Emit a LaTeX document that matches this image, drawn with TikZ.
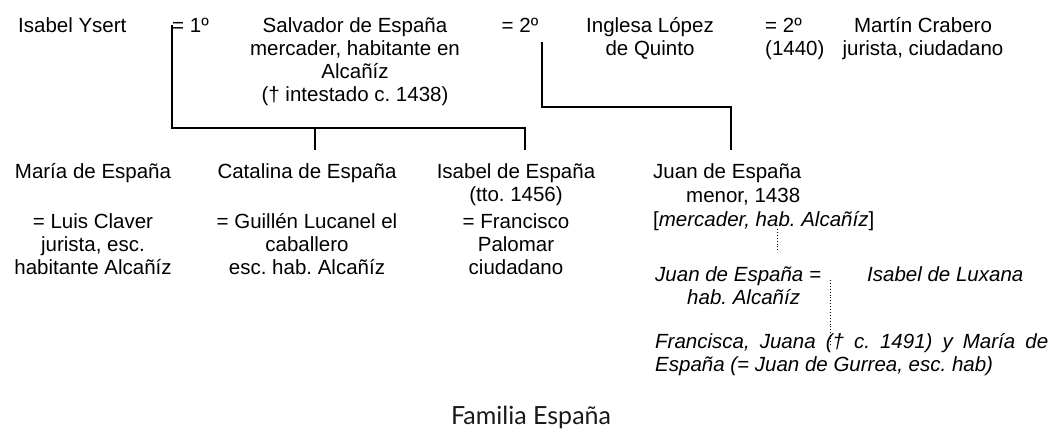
\documentclass[tikz,border=0pt]{standalone}
\usepackage{fontspec}
\setmainfont{Liberation Sans}
\newfontfamily\capfont{Lato}
\usetikzlibrary{positioning}
\definecolor{mainBlack}{gray}{0.0}
\definecolor{capGray}{gray}{0.1}
\frenchspacing

\begin{document}
\begin{tikzpicture}[x=1pt, y=-1pt,
    txt/.style={font=\fontsize{20.5}{23}\selectfont, text=mainBlack, inner sep=0pt, anchor=base},
    txti/.style={txt, font=\fontsize{20.5}{23}\selectfont\itshape},
    kin/.style={mainBlack, line width=1.8pt},
    dots/.style={mainBlack, line width=0.9pt, dotted}]
    \useasboundingbox (0,0) rectangle (1051,434);

    % First generation (multi-line nodes sit on their last baseline)
    \node[txt, anchor=base west] (ysert) at (18,32) {Isabel Ysert};
    \node[txt, anchor=base west] (eq1) at (172,32) {= 1º};
    \node[txt, align=center] (salvador) at (355,101) {Salvador de España\\mercader, habitante en\\Alcañíz\\(† intestado c. 1438)};
    \node[txt] (eq2) at (520,32) {= 2º};
    \node[txt, align=center] (inglesa) at (650,55) {Inglesa López\\de Quinto};
    \node[txt, align=left, anchor=base west] (eq3) at (765,55) {= 2º\\(1440)};
    \node[txt, align=center] (martin) at (923,55) {Martín Crabero\\jurista, ciudadano};

    % Children
    \node[txt, align=center] (maria) at (93,274) {María de España\\[27pt]= Luis Claver\\jurista, esc.\\habitante Alcañíz};
    \node[txt, align=center] (catalina) at (307,274) {Catalina de España\\[27pt]= Guillén Lucanel el\\caballero\\esc. hab. Alcañíz};
    \node[txt, align=center] (isabel) at (516,274) {Isabel de España\\(tto. 1456)\\[4pt]= Francisco\\Palomar\\ciudadano};
    \node[txt, align=left, anchor=base west] (juan) at (653,226) {Juan de España\\[1pt]\hspace*{33pt}menor, 1438\\[1pt]{[}\textit{mercader, hab. Alcañíz}{]}};

    % Grandchildren
    \node[txti, align=left, anchor=base west] (juanB) at (655,304) {Juan de España =\\\hspace*{32pt}hab. Alcañíz};
    \node[txti, anchor=base west] (luxana) at (867,281) {Isabel de Luxana};
    \node[txti, align=left, anchor=base west] (hijas) at (655,371) {\makebox[393pt][s]{Francisca, Juana († c. 1491) y María de}\\España (= Juan de Gurrea, esc. hab)};

    % Lines of descent
    \coordinate (m1) at (172,25);
    \coordinate (bar1) at (0,128);
    \coordinate (d1) at (315,150);
    \coordinate (d2) at (525,150);
    \draw[kin] (m1) |- (d2 |- bar1) -- (d2);
    \draw[kin] (d1 |- bar1) -- (d1);
    \coordinate (m2) at (542,42);
    \coordinate (bar2) at (0,107);
    \coordinate (d3) at (731,150);
    \draw[kin] (m2) |- (d3 |- bar2) -- (d3);
    \coordinate (j1) at (777,229);
    \coordinate (j2) at (777,250);
    \draw[dots] (j1) -- (j2);
    \coordinate (k1) at (830,280);
    \coordinate (k2) at (830,345);
    \draw[dots] (k1) -- (k2);

    % Caption
    \node[font=\capfont\fontsize{25}{28}\selectfont, text=capGray, anchor=base] (titulo) at (531,424) {Familia España};
\end{tikzpicture}
\end{document}
